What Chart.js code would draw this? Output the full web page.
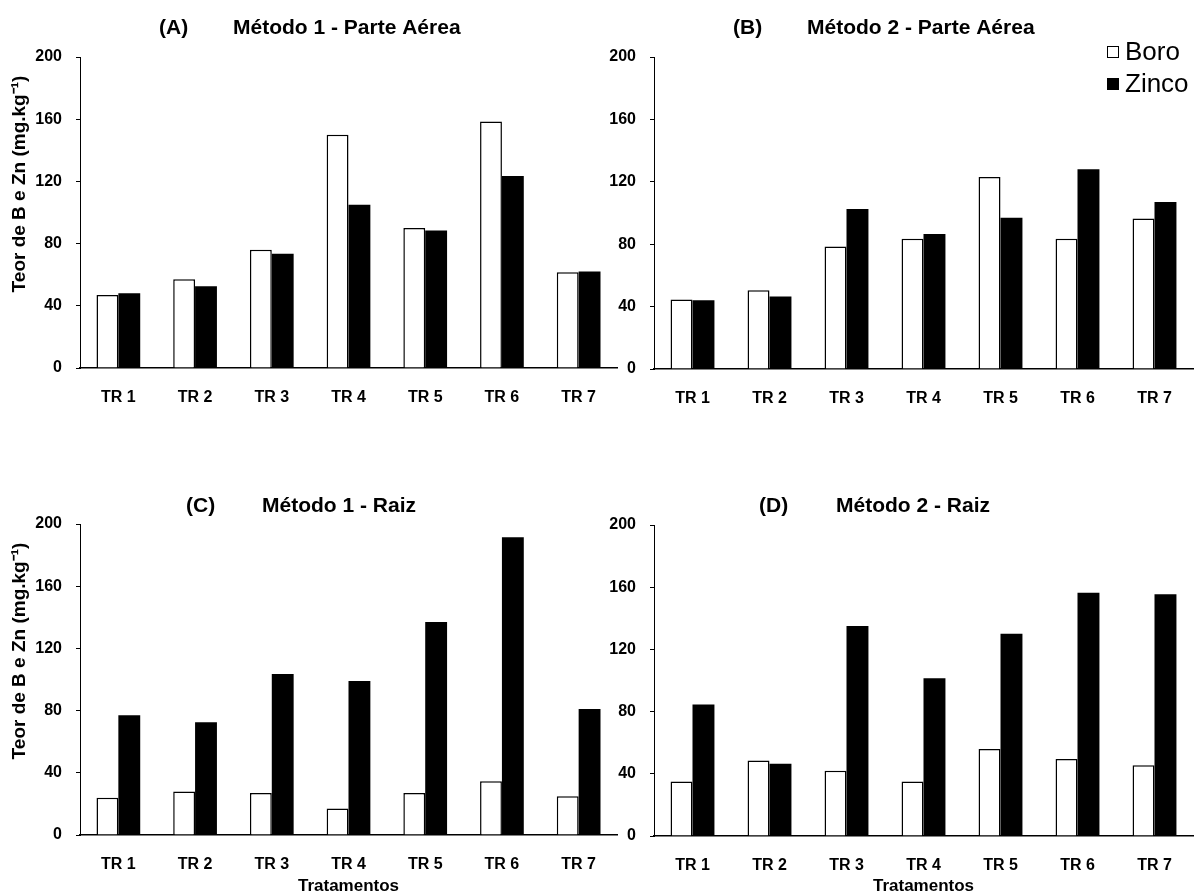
<!DOCTYPE html>
<html lang="pt">
<head>
<meta charset="utf-8">
<title>Teor de B e Zn por tratamento</title>
<script src="https://cdn.jsdelivr.net/npm/chart.js@4.4.1/dist/chart.umd.min.js"></script>
<style>
  html, body { margin: 0; padding: 0; background: #ffffff; }
  #wrap { position: relative; width: 1195px; height: 895px; overflow: hidden; background: #ffffff; }
  #wrap canvas { position: absolute; left: 0; top: 0; }
</style>
</head>
<body>
<div id="wrap">
  <canvas id="chartA" width="1195" height="895"></canvas>
  <canvas id="chartB" width="1195" height="895"></canvas>
  <canvas id="chartC" width="1195" height="895"></canvas>
  <canvas id="chartD" width="1195" height="895"></canvas>
</div>
<script>
// Tratamentos
const categories = ['TR 1', 'TR 2', 'TR 3', 'TR 4', 'TR 5', 'TR 6', 'TR 7'];
const seriesNames = ['Boro', 'Zinco'];
const yTicks = [0, 40, 80, 120, 160, 200];

// (A) Método 1 - Parte Aérea
const boroA  = [47, 57, 76, 150, 90, 158.5, 61.5];
const zincoA = [48, 52.5, 73.5, 105, 88.5, 123.5, 62];
// (B) Método 2 - Parte Aérea
const boroB  = [44.5, 50.5, 78.5, 83.5, 123, 83.5, 96.5];
const zincoB = [44, 46.5, 102.5, 86.5, 97, 128, 107];
// (C) Método 1 - Raiz
const boroC  = [24, 28, 27, 17, 27, 34.5, 25];
const zincoC = [77, 72.5, 103.5, 99, 137, 191.5, 81];
// (D) Método 2 - Raiz
const boroD  = [35, 48.5, 42, 35, 56, 49.5, 45.5];
const zincoD = [84.5, 46.5, 135, 101.5, 130, 156.5, 155.5];

const yTitle = 'Teor de B e Zn (mg.kg\u207B\u00B9)';
const xTitle = 'Tratamentos';

const FONT = '"Liberation Sans", Arial, Helvetica, sans-serif';
const W = 1195, H = 895;

Chart.defaults.font.family = FONT;
Chart.defaults.font.weight = 'bold';
Chart.defaults.color = '#000000';

// Titles, rotated y-axis title and legend drawn on top of each panel
const panelText = {
  id: 'panelText',
  afterDraw(chart, args, opts) {
    const ctx = chart.ctx;
    const area = chart.chartArea;
    ctx.save();
    ctx.fillStyle = '#000000';
    ctx.textBaseline = 'alphabetic';
    ctx.textAlign = 'left';
    ctx.font = 'bold 21px ' + FONT;
    ctx.fillText(opts.tag, area.left + opts.tagOffset, opts.titleBaseline);
    ctx.fillText(opts.title, area.left + opts.titleOffset, opts.titleBaseline);

    if (opts.yTitle) {
      ctx.save();
      ctx.translate(20, area.top + 127);
      ctx.rotate(-Math.PI / 2);
      ctx.textAlign = 'center';
      ctx.textBaseline = 'middle';
      ctx.font = 'bold 19px ' + FONT;
      ctx.fillText(opts.yTitle, 0, 0);
      ctx.restore();
    }

    if (opts.legend) {
      const ds = chart.data.datasets;
      ctx.font = 'normal 26px ' + FONT;
      ctx.textBaseline = 'middle';
      ds.forEach((d, i) => {
        const y = opts.legend.y + i * opts.legend.gap;
        const x = opts.legend.x;
        ctx.fillStyle = d.backgroundColor;
        ctx.fillRect(x, y - 6, 12, 12);
        ctx.strokeStyle = '#000000';
        ctx.lineWidth = 1;
        ctx.strokeRect(x + 0.5, y - 5.5, 11, 11);
        ctx.fillStyle = '#000000';
        ctx.fillText(d.label, x + 18, y + 1);
      });
    }
    ctx.restore();
  }
};

function makePanel(id, boro, zinco, box, text, withXTitle) {
  const yWidth = box.yWidth;
  const xHeight = withXTitle ? H - box.bottom : 50;
  return new Chart(document.getElementById(id), {
    type: 'bar',
    data: {
      labels: categories,
      datasets: [
        { label: seriesNames[0], data: boro, backgroundColor: '#ffffff', borderColor: '#000000', borderWidth: 1.5 },
        { label: seriesNames[1], data: zinco, backgroundColor: '#000000', borderColor: '#000000', borderWidth: 0 }
      ]
    },
    options: {
      responsive: false,
      animation: false,
      events: [],
      layout: {
        padding: {
          left: box.left - yWidth,
          right: W - box.right,
          top: box.top,
          bottom: H - box.bottom - xHeight
        }
      },
      datasets: { bar: { categoryPercentage: 0.57, barPercentage: 1.0 } },
      plugins: {
        legend: { display: false },
        tooltip: { enabled: false },
        title: { display: false },
        panelText: text
      },
      scales: {
        x: {
          grid: { display: false, drawTicks: false },
          border: { display: true, color: '#000000', width: 1.5 },
          ticks: { font: { size: 16, weight: 'bold' }, padding: 20, maxRotation: 0, autoSkip: false, color: '#000000' },
          title: withXTitle ? { display: true, text: xTitle, font: { size: 17, weight: 'bold', lineHeight: 1 }, padding: 0, color: '#000000' } : { display: false },
          afterFit(scale) { scale.height = xHeight; }
        },
        y: {
          min: 0,
          max: 200,
          afterBuildTicks(scale) { scale.ticks = yTicks.map(v => ({ value: v })); },
          grid: { drawOnChartArea: false, drawTicks: true, tickLength: 4, color: '#000000', lineWidth: 1 },
          border: { display: true, color: '#000000', width: 1 },
          ticks: { font: { size: 16, weight: 'bold' }, padding: 14, color: '#000000' },
          afterFit(scale) { scale.width = yWidth; }
        }
      }
    },
    plugins: [panelText]
  });
}

makePanel('chartA', boroA, zincoA,
  { left: 80, right: 617, top: 57, bottom: 368, yWidth: 80 },
  { tag: '(A)', title: 'Método 1 - Parte Aérea', tagOffset: 79, titleOffset: 153, titleBaseline: 34, yTitle: yTitle },
  false);

makePanel('chartB', boroB, zincoB,
  { left: 654, right: 1193, top: 57, bottom: 369, yWidth: 60 },
  { tag: '(B)', title: 'Método 2 - Parte Aérea', tagOffset: 79, titleOffset: 153, titleBaseline: 34,
    legend: { x: 1107, y: 52, gap: 32 } },
  false);

makePanel('chartC', boroC, zincoC,
  { left: 80, right: 617, top: 524, bottom: 835, yWidth: 80 },
  { tag: '(C)', title: 'Método 1 - Raiz', tagOffset: 106, titleOffset: 182, titleBaseline: 512, yTitle: yTitle },
  true);

makePanel('chartD', boroD, zincoD,
  { left: 654, right: 1193, top: 525, bottom: 836, yWidth: 60 },
  { tag: '(D)', title: 'Método 2 - Raiz', tagOffset: 105, titleOffset: 182, titleBaseline: 512 },
  true);
</script>
</body>
</html>
